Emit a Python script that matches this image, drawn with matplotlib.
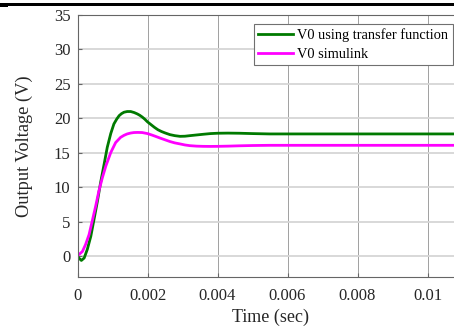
import matplotlib
matplotlib.use('Agg')
import matplotlib.pyplot as plt
from matplotlib.patches import Rectangle

plt.rcParams['font.family'] = ['Liberation Serif', 'DejaVu Serif']

# values (time in ms, voltage in V)
t_tf = [0, 0.04, 0.11, 0.19, 0.28, 0.38, 0.47, 0.57, 0.66, 0.76, 0.85,
        0.95, 1.04, 1.12, 1.19, 1.26, 1.33, 1.42, 1.52, 1.62, 1.71, 1.78,
        1.85, 1.92, 2.0, 2.1, 2.2, 2.3, 2.4, 2.5, 2.64, 2.78, 2.93, 3.07,
        3.21, 3.4, 3.59, 3.8, 4.0, 4.3, 4.63, 5.0, 5.49, 6.0, 7.0, 8.0,
        9.0, 10.0, 11.0]
v_tf = [0, -0.25, -0.6, -0.25, 1.0, 2.9, 5.3, 8.0, 10.7, 13.35, 15.8,
        17.8, 19.2, 19.9, 20.4, 20.7, 20.9, 21.0, 21.0, 20.85, 20.65, 20.45,
        20.2, 19.9, 19.5, 19.1, 18.7, 18.35, 18.1, 17.9, 17.65, 17.5, 17.4, 17.42,
        17.5, 17.6, 17.7, 17.8, 17.85, 17.87, 17.85, 17.8, 17.75, 17.75, 17.75, 17.75,
        17.75, 17.75, 17.75]

t_sim = [0, 0.04, 0.14, 0.23, 0.33, 0.42, 0.52, 0.61, 0.71, 0.81, 0.95,
         1.09, 1.23, 1.33, 1.42, 1.52, 1.61, 1.72, 1.85, 2.0, 2.12, 2.24,
         2.36, 2.5, 2.64, 2.78, 2.93, 3.07, 3.21, 3.4, 3.59, 3.8, 4.0, 4.3,
         4.63, 5.0, 5.49, 6.0, 7.0, 8.0, 9.0, 10.0, 11.0]
v_sim = [0.25, 0.25, 0.7, 1.7, 3.15, 5.1, 7.3, 9.45, 11.4, 13.1, 15.05,
         16.5, 17.25, 17.55, 17.75, 17.88, 17.95, 17.97, 17.95, 17.8, 17.6, 17.38,
         17.15, 16.9, 16.65, 16.45, 16.3, 16.15, 16.05, 15.98, 15.95, 15.94, 15.95, 15.98,
         16.03, 16.07, 16.1, 16.1, 16.1, 16.1, 16.1, 16.1, 16.1]

xticks = [0, 0.002, 0.004, 0.006, 0.008, 0.01]
xticklabels = ['0', '0.002', '0.004', '0.006', '0.008', '0.01']
yticks = [0, 5, 10, 15, 20, 25, 30, 35]

W, H = 454, 328
fig = plt.figure(figsize=(W / 100, H / 100), dpi=100)
ax = fig.add_axes([77.5 / W, (H - 277) / H, (462.5 - 77.5) / W, 262 / H])

ax.plot([t * 1e-3 for t in t_tf], v_tf, color='#007a00', lw=2,
        label='V0 using transfer function')
ax.plot([t * 1e-3 for t in t_sim], v_sim, color='#ff00ff', lw=2,
        label='V0 simulink')

ax.set_xlim(0, 0.011)
ax.set_ylim(-3, 35)
ax.set_xticks(xticks)
ax.set_xticklabels(xticklabels)
ax.set_yticks(yticks)

ax.yaxis.grid(True, color='#d6d6d6', lw=1.3)
ax.xaxis.grid(True, color='#a0a0a0', lw=0.7)
ax.set_axisbelow(True)
for s in ax.spines.values():
    s.set_color('#666666')
    s.set_linewidth(0.8)
ax.tick_params(direction='in', length=3, color='#666666', labelsize=12,
               labelcolor='#262626')
ax.tick_params(axis='x', pad=8)
ax.tick_params(axis='y', pad=5)

ax.set_xlabel('Time (sec)', fontsize=13, color='#262626', labelpad=3)
ax.set_ylabel('Output Voltage (V)', fontsize=13.2, color='#262626', labelpad=15)

leg = ax.legend(loc='upper right', bbox_to_anchor=(452.7 / W, 1 - 24.3 / H),
                bbox_transform=fig.transFigure, borderaxespad=0,
                fontsize=10.4, handlelength=2.4, handletextpad=0.3,
                labelspacing=0.35, borderpad=0.3, fancybox=False,
                framealpha=1, edgecolor='#707070')
leg.get_frame().set_linewidth(0.8)

# black rule across the top of the cropped image
fig.add_artist(Rectangle((0, 1 - 6 / H), 1, 3 / H, transform=fig.transFigure,
                         color='black', lw=0))
fig.add_artist(Rectangle((0, 1 - 7 / H), 8 / W, 1.5 / H, transform=fig.transFigure,
                         color='black', lw=0))

fig.savefig('out.png', dpi=100)
